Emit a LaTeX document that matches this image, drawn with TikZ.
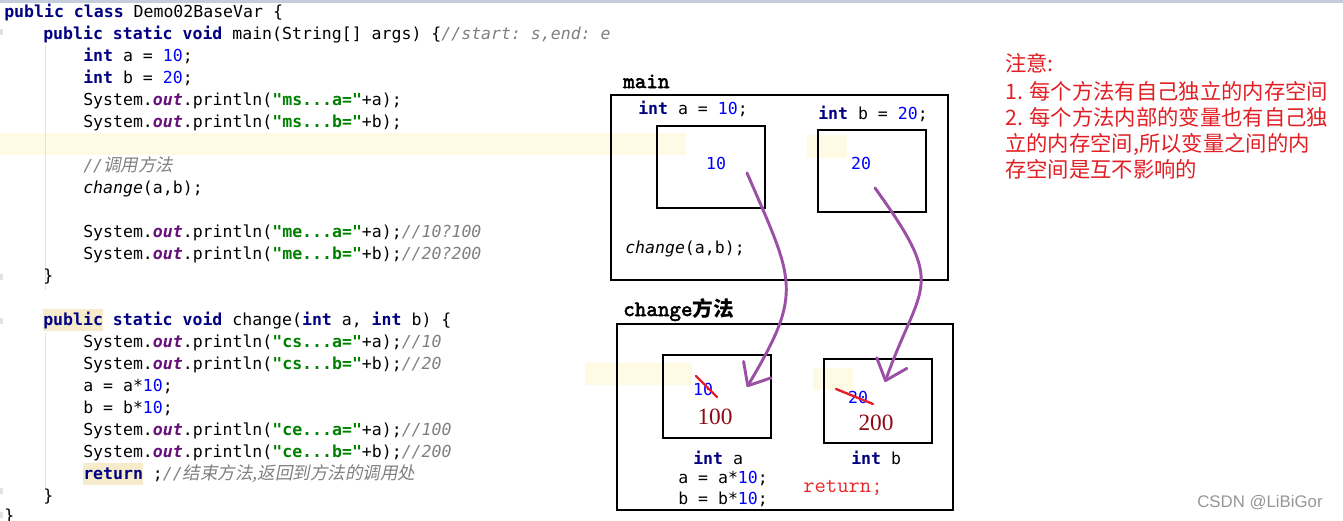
\documentclass[tikz,border=0pt]{standalone}
\usepackage{fontspec}
\setmonofont{DejaVu Sans Mono}[ItalicFont={DejaVu Sans Mono Oblique},BoldItalicFont={DejaVu Sans Mono Bold Oblique}]
\newfontfamily\cjk{Noto Sans CJK SC}
\newfontfamily\cjkslant[FakeSlant=0.2,Scale=1.06]{Noto Sans CJK SC}
\newfontfamily\simserif{Liberation Serif}
\newfontfamily\wmfont{Liberation Sans}
\newfontfamily\titlefont[FakeBold=2.5]{lmmono10-regular.otf}
\newcommand\typewriter{\fontfamily{lmtt}\selectfont}
\usetikzlibrary{arrows.meta}

\definecolor{kwnavy}{RGB}{0,0,128}
\definecolor{numblue}{RGB}{0,0,255}
\definecolor{strgreen}{RGB}{0,128,0}
\definecolor{fldpurple}{RGB}{102,14,122}
\definecolor{cmtgray}{RGB}{128,128,128}
\definecolor{flowpurple}{RGB}{155,80,165}
\definecolor{strikered}{RGB}{230,30,45}
\definecolor{newred}{RGB}{140,10,20}
\definecolor{notered}{RGB}{225,30,35}
\definecolor{retred}{RGB}{230,40,40}
\definecolor{bandyellow}{RGB}{254,250,228}
\definecolor{wordyellow}{RGB}{246,236,204}
\definecolor{guidegray}{RGB}{226,226,226}
\definecolor{topblue}{RGB}{197,205,220}
\definecolor{wmgray}{RGB}{150,150,150}

\newcommand\codefont{\ttfamily\fontsize{12.4pt}{15pt}\selectfont}
\newcommand\kw[1]{{\color{kwnavy}\bfseries #1}}
\newcommand\cnum[1]{{\color{numblue}#1}}
\newcommand\cstr[1]{{\color{strgreen}\bfseries #1}}
\newcommand\fld[1]{{\color{fldpurple}\bfseries\itshape #1}}
\newcommand\cmt[1]{{\color{cmtgray}\itshape #1}}

\begin{document}
\begin{tikzpicture}[x=0.75pt,y=-0.75pt,
	code/.style={anchor=base west,inner sep=0pt,font=\codefont},
	cell/.style={draw,line width=2.2pt,inner sep=0pt},
	title/.style={anchor=base west,inner sep=0pt,font=\titlefont\fontsize{16.5pt}{19pt}\selectfont},
	flow/.style={draw=flowpurple,line width=2.2pt,line cap=round,-{Straight Barb[round,length=14pt,width=24pt]}},
	strike/.style={draw=strikered,line width=1.8pt,line cap=round},
	note/.style={anchor=base west,inner sep=0pt,text=notered,font=\cjk\fontsize{16pt}{19pt}\selectfont}]
	\useasboundingbox (0,0) rectangle (1343,521);
	% editor background
	\fill[topblue] (0,0) rectangle (1343,2.5);
	\fill[bandyellow] (0,133) rectangle (686,155);
	\fill[bandyellow] (807,135) rectangle (847,158);
	\fill[bandyellow] (585,363) rectangle (692,385);
	\fill[bandyellow] (813,368) rectangle (853,390);
	\fill[wordyellow] (43,309) rectangle (103,331);
	\fill[wordyellow] (83,463) rectangle (143,485);
	\draw[guidegray,line width=0.75pt] (45,45) -- (45,290) (45,333) -- (45,488);
	\foreach \y in {32,277,321,491,515} {
		\fill[guidegray] (0,\y-3) rectangle (3,\y+3);
	}
	
	% Code
	\node[code] (ln1) at (4,17) {\kw{public class} Demo02BaseVar \{};
	\node[code] (ln2) at (43,39) {\kw{public static void} main(String[] args) \{\cmt{//start: s,end: e}};
	\node[code] (ln3) at (83,61) {\kw{int} a = \cnum{10};};
	\node[code] (ln4) at (83,83) {\kw{int} b = \cnum{20};};
	\node[code] (ln5) at (83,105) {System.\fld{out}.println(\cstr{"ms...a="}+a);};
	\node[code] (ln6) at (83,127) {System.\fld{out}.println(\cstr{"ms...b="}+b);};
	\node[code] (ln8) at (83,171) {\cmt{//{\cjkslant 调用方法}}};
	\node[code] (ln9) at (83,193) {\textit{change}(a,b);};
	\node[code] (ln11) at (83,237) {System.\fld{out}.println(\cstr{"me...a="}+a);\cmt{//10?100}};
	\node[code] (ln12) at (83,259) {System.\fld{out}.println(\cstr{"me...b="}+b);\cmt{//20?200}};
	\node[code] (ln13) at (43,281) {\}};
	\node[code] (ln15) at (43,325) {\kw{public static void} change(\kw{int} a, \kw{int} b) \{};
	\node[code] (ln16) at (83,347) {System.\fld{out}.println(\cstr{"cs...a="}+a);\cmt{//10}};
	\node[code] (ln17) at (83,369) {System.\fld{out}.println(\cstr{"cs...b="}+b);\cmt{//20}};
	\node[code] (ln18) at (83,391) {a = a*\cnum{10};};
	\node[code] (ln19) at (83,413) {b = b*\cnum{10};};
	\node[code] (ln20) at (83,435) {System.\fld{out}.println(\cstr{"ce...a="}+a);\cmt{//100}};
	\node[code] (ln21) at (83,457) {System.\fld{out}.println(\cstr{"ce...b="}+b);\cmt{//200}};
	\node[code] (ln22) at (83,479) {\kw{return} ;\cmt{//{\cjkslant 结束方法,返回到方法的调用处}}};
	\node[code] (ln23) at (43,501) {\}};
	\node[code] (ln24) at (4,521) {\}};
	
	% main frame
	\node[title] (mainlbl) at (623,88) {main};
	\node[cell,minimum width=252.75pt,minimum height=138.75pt] (mainframe) at (779.5,187.5) {};
	\node[cell,minimum width=81pt,minimum height=61.5pt] (boxa) at (711,167) {};
	\node[cell,minimum width=81pt,minimum height=61.5pt] (boxb) at (872,171) {};
	\node[code] (decla) at (638,114) {\kw{int} a = \cnum{10};};
	\node[code] (declb) at (818,119) {\kw{int} b = \cnum{20};};
	\node[code,anchor=center,text=numblue] (vala) at (716,163) {10};
	\node[code,anchor=center,text=numblue] (valb) at (861,163) {20};
	\node[code] (call) at (625,253) {\textit{change}(a,b);};
	
	% change frame
	\node[title] (chlbl) at (623,316) {change{\cjk\bfseries\fontsize{15.5pt}{18pt}\selectfont 方法}};
	\node[cell,minimum width=252pt,minimum height=139.5pt] (chframe) at (785,417) {};
	\node[cell,minimum width=81pt,minimum height=62.25pt] (boxca) at (717,396.5) {};
	\node[cell,minimum width=81pt,minimum height=63pt] (boxcb) at (878,401) {};
	\node[code,anchor=center,text=numblue] (olda) at (703,389) {10};
	\node[code,anchor=center,text=numblue] (oldb) at (858,397) {20};
	\draw[strike] (696,376) -- (717,397);
	\draw[strike] (836,389) -- (873,404);
	\node[inner sep=0pt,text=newred,font=\simserif\fontsize{17.5pt}{20pt}\selectfont] (newa) at (715,417) {100};
	\node[inner sep=0pt,text=newred,font=\simserif\fontsize{17.5pt}{20pt}\selectfont] (newb) at (876,423) {200};
	\node[code] (parama) at (693,464) {\kw{int} a};
	\node[code] (paramb) at (851,464) {\kw{int} b};
	\node[code] (stmta) at (678,483) {a = a*\cnum{10};};
	\node[code] (stmtb) at (678,504) {b = b*\cnum{10};};
	\node[anchor=base west,inner sep=0pt,text=retred,font=\typewriter\fontsize{16.5pt}{19pt}\selectfont] (ret) at (803,492) {return;};
	
	% value copies
	\coordinate (srcA) at (747,173);
	\coordinate (dstA) at (747,387);
	\coordinate (srcB) at (875,188);
	\coordinate (dstB) at (885,382);
	\draw[flow] (srcA) .. controls (794,281.5) and (804,291.5) .. (dstA);
	\draw[flow] (srcB) .. controls (948,289) and (921,281) .. (dstB);
	
	% notes
	\node[note] (note1) at (1005,71) {注意:};
	\node[note] (note2) at (1005,99) {1. 每个方法有自己独立的内存空间};
	\node[note] (note3) at (1005,125) {2. 每个方法内部的变量也有自己独};
	\node[note] (note4) at (1005,151) {立的内存空间,所以变量之间的内};
	\node[note] (note5) at (1005,177) {存空间是互不影响的};
	
	\node[inner sep=0pt,text=wmgray,font=\wmfont\fontsize{12.6pt}{14pt}\selectfont] (mark) at (1260,503) {CSDN @LiBiGor};
\end{tikzpicture}
\end{document}
